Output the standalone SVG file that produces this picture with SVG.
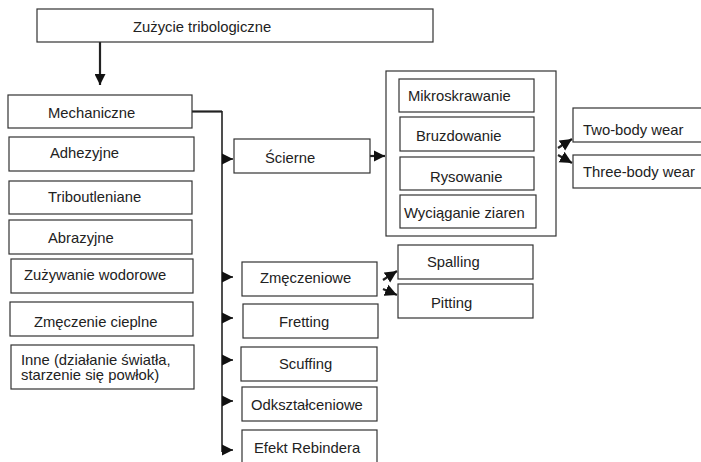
<svg xmlns="http://www.w3.org/2000/svg" width="701" height="462" viewBox="0 0 701 462">
<style>
.box{fill:#fff;stroke:#333;stroke-width:1.2}
text{font-family:"Liberation Sans",Arial,sans-serif;font-size:14.8px;fill:#222}
.c{fill:none;stroke:#222;stroke-width:1.6}
.t{fill:none;stroke:#222;stroke-width:2.2}
</style>
<defs>
<marker id="a" viewBox="0 0 10 10" refX="10" refY="5" markerWidth="11" markerHeight="12" markerUnits="userSpaceOnUse" orient="auto"><path d="M0,0L10,5L0,10z" fill="#111"/></marker>
<marker id="b" viewBox="0 0 10 10" refX="10" refY="5" markerWidth="12" markerHeight="11" markerUnits="userSpaceOnUse" orient="auto"><path d="M0,0L10,5L0,10z" fill="#111"/></marker>
<marker id="d" viewBox="0 0 10 10" refX="10" refY="5" markerWidth="12" markerHeight="13" markerUnits="userSpaceOnUse" orient="auto"><path d="M0,0L10,5L0,10z" fill="#111"/></marker>
</defs>
<g id="connectors">
<path class="t" d="M100,42V85" marker-end="url(#b)"/>
<path class="t" d="M192,111.5H222"/>
<path class="c" d="M222,111V452"/>
<path class="c" d="M222,159H233" marker-end="url(#a)"/>
<path class="c" d="M222,277H233" marker-end="url(#a)"/>
<path class="c" d="M222,318H233" marker-end="url(#a)"/>
<path class="c" d="M222,360H233" marker-end="url(#a)"/>
<path class="c" d="M222,401H233" marker-end="url(#a)"/>
<path class="c" d="M222,450H233" marker-end="url(#a)"/>
<path class="t" d="M370,156H385" marker-end="url(#a)"/>
<path class="t" d="M558,148L572,139" marker-end="url(#d)"/>
<path class="t" d="M558,155L572,163" marker-end="url(#d)"/>
<path class="t" d="M383,280L397,271" marker-end="url(#d)"/>
<path class="t" d="M383,289L397,295" marker-end="url(#d)"/>
</g>
<g id="n-root"><rect class="box" x="37" y="9" width="396" height="33"/><text x="133" y="32">Zużycie tribologiczne</text></g>
<g id="n-mech"><rect class="box" x="8" y="95" width="184" height="33"/><text x="48" y="118">Mechaniczne</text></g>
<g id="n-adh"><rect class="box" x="9" y="137" width="185" height="34"/><text x="50" y="158">Adhezyjne</text></g>
<g id="n-tri"><rect class="box" x="9" y="181" width="183" height="33"/><text x="48" y="202">Triboutleniane</text></g>
<g id="n-abr"><rect class="box" x="9" y="220" width="183" height="34"/><text x="48" y="243">Abrazyjne</text></g>
<g id="n-wod"><rect class="box" x="11" y="259" width="182" height="34"/><text x="24" y="280">Zużywanie wodorowe</text></g>
<g id="n-ciep"><rect class="box" x="10" y="302" width="183" height="34"/><text x="34" y="327">Zmęczenie cieplne</text></g>
<g id="n-inne"><rect class="box" x="11" y="345" width="183" height="44"/><text x="21" y="365">Inne (działanie światła,</text><text x="21" y="380">starzenie się powłok)</text></g>
<g id="n-scierne"><rect class="box" x="234" y="139" width="136" height="34"/><text x="265" y="163">Ścierne</text></g>
<g id="n-group"><rect class="box" x="386" y="71" width="170" height="165"/>
<g id="n-mikro"><rect class="box" x="399" y="79" width="135" height="33"/><text x="408" y="101">Mikroskrawanie</text></g>
<g id="n-bruzd"><rect class="box" x="400" y="117" width="134" height="34"/><text x="416" y="141">Bruzdowanie</text></g>
<g id="n-rys"><rect class="box" x="400" y="157" width="134" height="33"/><text x="430" y="182">Rysowanie</text></g>
<g id="n-wyc"><rect class="box" x="400" y="195" width="136" height="33"/><text x="404" y="218">Wyciąganie ziaren</text></g>
</g>
<g id="n-two"><rect class="box" x="573" y="108" width="140" height="34"/><text x="583" y="135">Two-body wear</text></g>
<g id="n-three"><rect class="box" x="573" y="155" width="140" height="33"/><text x="583" y="177">Three-body wear</text></g>
<g id="n-zmecz"><rect class="box" x="242" y="262" width="135" height="34"/><text x="260" y="283">Zmęczeniowe</text></g>
<g id="n-spall"><rect class="box" x="398" y="245" width="135" height="34"/><text x="427" y="267">Spalling</text></g>
<g id="n-pitt"><rect class="box" x="398" y="284" width="135" height="34"/><text x="431" y="308">Pitting</text></g>
<g id="n-fret"><rect class="box" x="243" y="304" width="135" height="34"/><text x="279" y="327">Fretting</text></g>
<g id="n-scuf"><rect class="box" x="241" y="347" width="136" height="34"/><text x="279" y="369">Scuffing</text></g>
<g id="n-odk"><rect class="box" x="242" y="387" width="135" height="34"/><text x="251" y="410">Odkształceniowe</text></g>
<g id="n-reb"><rect class="box" x="242" y="430" width="135" height="40"/><text x="254" y="453">Efekt Rebindera</text></g>
</svg>
